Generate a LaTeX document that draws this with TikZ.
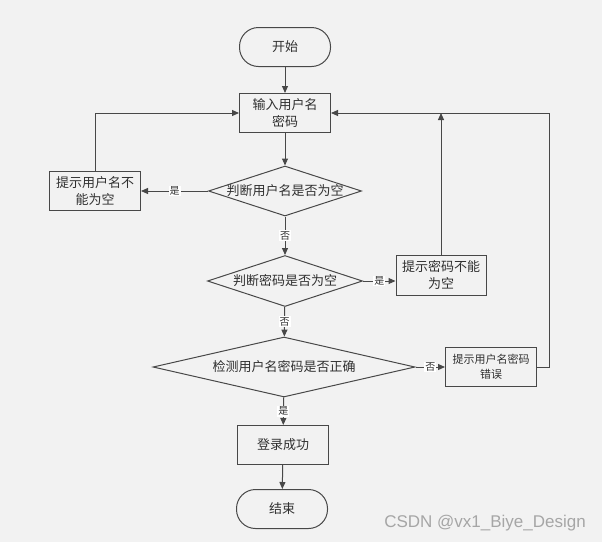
\documentclass[tikz,border=0pt]{standalone}
\usepackage{fontspec}
\setmainfont{Noto Sans CJK SC}
\newfontfamily\wmfont{Liberation Sans}
\usetikzlibrary{shapes.geometric,arrows.meta}
\definecolor{bgfill}{HTML}{F2F2F2}
\definecolor{linecol}{HTML}{484848}
\definecolor{textcol}{HTML}{303030}

\begin{document}
\begin{tikzpicture}[x=1pt,y=-1pt,
  every node/.style={font=\fontsize{13}{17}\selectfont, text=textcol},
  box/.style={draw=linecol, line width=1pt, fill=bgfill, minimum width=91pt, minimum height=39pt, align=center, inner sep=2pt},
  term/.style={box, rounded corners=19pt},
  cond/.style={draw=linecol, diamond, line width=1pt, inner sep=0pt, fill=bgfill},
  lbl/.style={fill=white, font=\fontsize{10}{12}\selectfont, inner sep=1pt},
  flow/.style={draw=linecol, line width=1pt, -{Triangle[length=7pt,width=6pt]}}]
\fill[bgfill] (0,0) rectangle (602,542);
\useasboundingbox (0,0) rectangle (602,542);

\node[term] (start) at (285,47) {开始};
\node[box] (input) at (285,113) {输入用户名\\密码};
\node[cond, minimum width=153pt, minimum height=50pt, label=center:{判断用户名是否为空}] (chkuser) at (285,191) {};
\node[box] (usermsg) at (95,191) {提示用户名不\\能为空};
\node[cond, minimum width=155pt, minimum height=51pt, label=center:{判断密码是否为空}] (chkpwd) at (285,281) {};
\node[box, minimum width=90pt, minimum height=40pt] (pwdmsg) at (441,275) {提示密码不能\\为空};
\node[cond, minimum width=262pt, minimum height=60pt, label=center:{检测用户名密码是否正确}] (chkboth) at (284,367) {};
\node[box, font=\fontsize{11}{15}\selectfont] (errmsg) at (491,367) {提示用户名密码\\错误};
\node[box] (ok) at (283,445) {登录成功};
\node[term] (stop) at (282,509) {结束};
\coordinate (rtturn) at (549,367);

\draw[flow] (start) -- (input);
\draw[flow] (input) -- (chkuser);
\draw[flow] (chkuser) -- node[lbl]{是} (usermsg);
\draw[flow] (chkuser) -- node[lbl]{否} (chkpwd);
\draw[flow] (chkpwd.east) -- node[lbl]{是} (pwdmsg.west |- chkpwd.east);
\draw[flow] (chkpwd) -- node[lbl]{否} (chkboth);
\draw[flow] (chkboth) -- node[lbl]{否} (errmsg);
\draw[flow] (chkboth) -- node[lbl]{是} (ok);
\draw[flow] (ok) -- (stop);

\draw[flow] (usermsg.north) |- (input.west);
\draw[flow] (pwdmsg.north) -- (pwdmsg.north |- input.east);
\draw[flow] (errmsg.east) -- (rtturn) |- (input.east);

\node[text=gray!70, font=\wmfont\fontsize{17}{20}\selectfont] (mark) at (485,523) {CSDN @vx1\_Biye\_Design};
\end{tikzpicture}
\end{document}
